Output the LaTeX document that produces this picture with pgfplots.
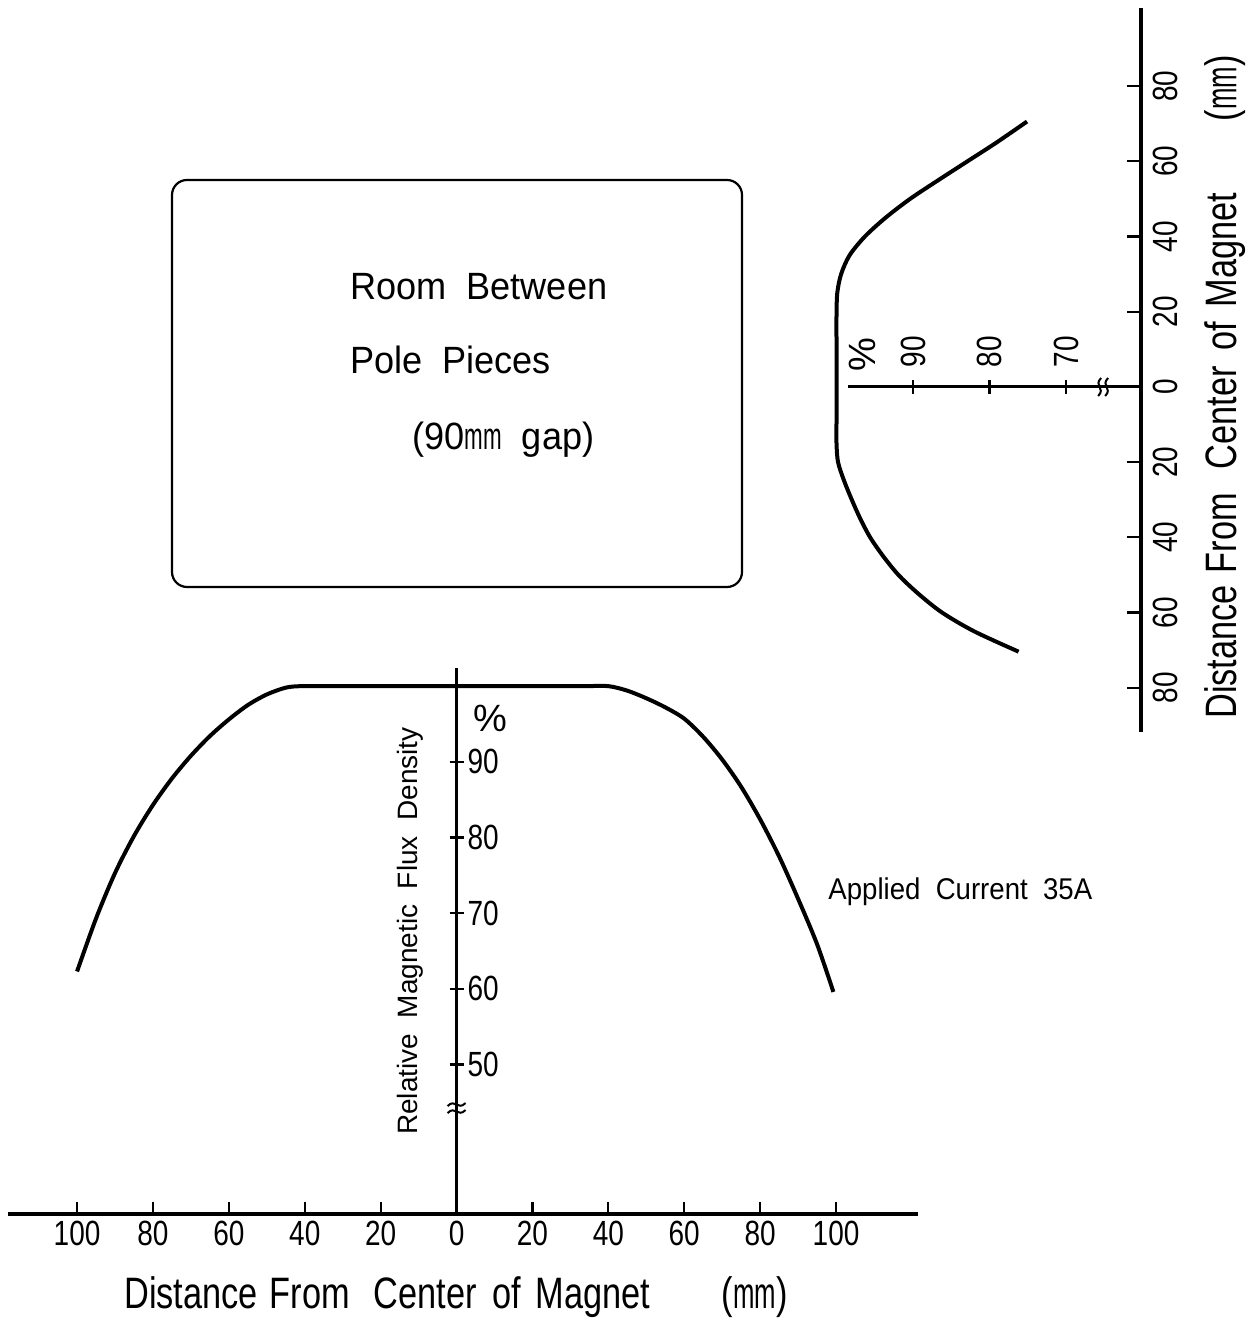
\documentclass[border=0pt]{standalone}
\usepackage{pgfplots}
\pgfplotsset{compat=1.18}
\usepackage{fontspec}
\setmainfont{Liberation Sans}
\newfontfamily\tickfont[FakeStretch=0.8]{Liberation Sans}
\newfontfamily\labfont[FakeStretch=0.78]{Liberation Sans}
\newfontfamily\boxfont[FakeStretch=0.95]{Liberation Sans}
\newfontfamily\appfont[FakeStretch=0.92]{Liberation Sans}
\newcommand{\tfs}{\tickfont\fontsize{17.5}{17.5}\selectfont}
\newcommand{\mm}{\scalebox{0.62}[1]{mm}}
\newcommand{\lmm}{\scalebox{0.75}[1]{mm}}
\newcommand{\distlabel}{Distance\hspace{6pt}From\hspace{12pt}Center\hspace{8pt}of\hspace{7pt}Magnet\hspace{36pt}(\lmm)}
\begin{document}
\begin{tikzpicture}
\useasboundingbox (0pt,0pt) rectangle (627.5pt,660.5pt);
% room between pole pieces
\draw[line width=1.1pt, rounded corners=7.5pt] (86pt,570.5pt) rectangle (371pt,367pt);
\node[anchor=west, font=\boxfont\fontsize{19}{19}\selectfont, inner sep=0pt] at (175pt,517pt) {Room\ \ Between};
\node[anchor=west, font=\boxfont\fontsize{19}{19}\selectfont, inner sep=0pt] at (175pt,480.5pt) {Pole\ \ Pieces};
\node[anchor=west, font=\boxfont\fontsize{19}{19}\selectfont, inner sep=0pt] at (206pt,440.5pt) {(90\mm\ \ gap)};
% labels
\node[anchor=west, font=\appfont\fontsize{15}{15}\selectfont, inner sep=0pt] at (414pt,214.5pt) {Applied\ \ Current\ \ 35A};
\node[font=\labfont\fontsize{22}{22}\selectfont, inner sep=0pt] at (228pt,12pt) {\distlabel};
\node[rotate=90, font=\fontsize{14}{14}\selectfont, inner sep=0pt] at (205pt,195pt) {Relative\ \ Magnetic\ \ Flux\ \ Density};
\node[rotate=90, font=\labfont\fontsize{22}{22}\selectfont, inner sep=0pt] at (612.5pt,467pt) {\distlabel};
\node[font=\fontsize{19}{19}\selectfont, inner sep=0pt] at (245pt,301.5pt) {\%};

% ---------------- bottom chart ----------------
\begin{axis}[
  at={(4pt,53.5pt)}, anchor=south west,
  scale only axis, width=455pt, height=273pt,
  xmin=-118.2, xmax=121.6, ymin=30.25, ymax=102.4,
  axis x line=bottom, axis y line=middle,
  x axis line style={line width=2pt,-},
  y axis line style={line width=1.5pt,-},
  xtick={-100,-80,...,100},
  xticklabels={100,80,60,40,20,0,20,40,60,80,100},
  ytick={50,60,70,80,90},
  yticklabels={50,60,70,80,90},
  tick align=inside, major tick length=6pt,
  xtick style={line width=1.1pt, black},
  ytick style={draw=none},
  xticklabel style={font=\tfs},
  yticklabel style={font=\tfs, anchor=west, xshift=2pt},
  clip=false,
]
\addplot[line width=2pt, smooth, black] coordinates {
(-100,62.3) (-95,69.3) (-90,75.3) (-85,80.2) (-80,84.3) (-75,87.8) (-70,90.8)
(-65,93.4) (-60,95.6) (-55,97.5) (-50,98.9) (-45,99.8) (-41,100) (-35,100)
(-25,100) (-15,100) (-5,100) (5,100) (15,100) (25,100) (34,100) (40,100)
(45,99.4) (50,98.4) (55,97.2) (60,95.7) (65,93.3) (70,90.3) (75,86.7) (80,82.4)
(85,77.5) (90,71.9) (95,65.9) (99.3,59.6)};
\pgfplotsinvokeforeach{50,60,70,80,90}{
  \draw[line width=1.1pt] (axis cs:0,#1) ++(-3.5pt,0pt) -- ++(7pt,0pt);
}
% axis break
\draw[line width=1pt] (axis cs:0,44.25) ++(-4.5pt,-2.5pt) .. controls ++(4pt,4pt) and ++(-4pt,-4pt) .. ++(9pt,1.5pt);
\draw[line width=1pt] (axis cs:0,44.25) ++(-4.5pt,1pt) .. controls ++(4pt,4pt) and ++(-4pt,-4pt) .. ++(9pt,1.5pt);
\end{axis}

% ---------------- right chart ----------------
\begin{axis}[
  at={(415pt,294.5pt)}, anchor=south west,
  scale only axis, width=155.5pt, height=362pt,
  x dir=reverse, xmin=60.2, xmax=100.85, ymin=-91.76, ymax=100.8,
  axis lines=none, clip=false,
]
\addplot[line width=2pt, smooth, black] coordinates {
(75.1,70.6) (79.1,65) (82.9,60) (86.7,55) (90.4,50) (93.6,45) (96.3,40)
(98.3,35) (99.4,30) (99.9,25) (100,19) (100,12) (100,5) (100,-2) (100,-9)
(100,-15) (99.8,-20) (99.0,-25) (98.0,-30) (96.9,-35) (95.6,-40) (93.9,-45)
(91.9,-50) (89.3,-55) (86.2,-60) (82.0,-65) (76.2,-70.4)};
\draw[line width=1.8pt] (axis cs:60.2,-91.76) -- (axis cs:60.2,100.8);
\draw[line width=1.5pt] (axis cs:98.5,0) -- (axis cs:60.2,0);
\pgfplotsinvokeforeach{-80,-60,-40,-20,0,20,40,60,80}{
  \draw[line width=1.1pt] (axis cs:60.2,#1) -- ++(-7pt,0pt);
}
\node[rotate=90, font=\tfs, inner sep=0pt] at ([xshift=12pt]axis cs:60.2,80) {80};
\node[rotate=90, font=\tfs, inner sep=0pt] at ([xshift=12pt]axis cs:60.2,60) {60};
\node[rotate=90, font=\tfs, inner sep=0pt] at ([xshift=12pt]axis cs:60.2,40) {40};
\node[rotate=90, font=\tfs, inner sep=0pt] at ([xshift=12pt]axis cs:60.2,20) {20};
\node[rotate=90, font=\tfs, inner sep=0pt] at ([xshift=12pt]axis cs:60.2,0) {0};
\node[rotate=90, font=\tfs, inner sep=0pt] at ([xshift=12pt]axis cs:60.2,-20) {20};
\node[rotate=90, font=\tfs, inner sep=0pt] at ([xshift=12pt]axis cs:60.2,-40) {40};
\node[rotate=90, font=\tfs, inner sep=0pt] at ([xshift=12pt]axis cs:60.2,-60) {60};
\node[rotate=90, font=\tfs, inner sep=0pt] at ([xshift=12pt]axis cs:60.2,-80) {80};
\pgfplotsinvokeforeach{90,80,70}{
  \draw[line width=1.1pt] (axis cs:#1,0) ++(0pt,-3.5pt) -- ++(0pt,7pt);
  \node[rotate=90, font=\tfs, inner sep=0pt] at ([yshift=17.5pt]axis cs:#1,0) {#1};
}
\node[rotate=90, font=\fontsize{19}{19}\selectfont, inner sep=0pt] at ([yshift=16pt]axis cs:96.6,0) {\%};
% axis break
\draw[line width=1pt] (axis cs:65.15,0) ++(-2.5pt,-4.5pt) .. controls ++(4pt,4pt) and ++(-4pt,-4pt) .. ++(1.5pt,9pt);
\draw[line width=1pt] (axis cs:65.15,0) ++(1pt,-4.5pt) .. controls ++(4pt,4pt) and ++(-4pt,-4pt) .. ++(1.5pt,9pt);
\end{axis}
\end{tikzpicture}
\end{document}
